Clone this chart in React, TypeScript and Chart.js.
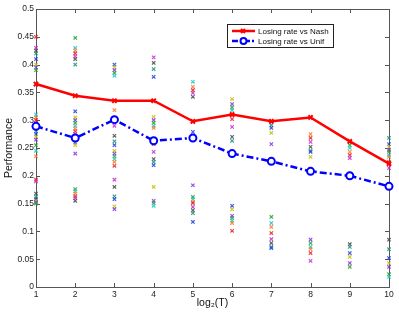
import React, { useEffect, useRef } from "react";
import { Chart, registerables } from "chart.js";

Chart.register(...registerables);

const xValues = [1, 2, 3, 4, 5, 6, 7, 8, 9, 10];
const nashLosing = [0.365, 0.344, 0.335, 0.335, 0.298, 0.31, 0.298, 0.305, 0.262, 0.222];
const unifLosing = [0.289, 0.268, 0.301, 0.263, 0.268, 0.24, 0.226, 0.208, 0.2, 0.181];

const runs1 = [0.45, 0.43, 0.425, 0.42, 0.41, 0.4, 0.395, 0.39, 0.31, 0.305, 0.3, 0.295, 0.29, 0.28, 0.275, 0.27, 0.265, 0.255, 0.245, 0.235, 0.193, 0.19, 0.168, 0.162, 0.158, 0.155, 0.152, 0.15];
const runs2 = [0.448, 0.43, 0.425, 0.42, 0.415, 0.41, 0.4, 0.316, 0.305, 0.3, 0.295, 0.29, 0.285, 0.28, 0.275, 0.27, 0.265, 0.26, 0.255, 0.24, 0.176, 0.172, 0.168, 0.163, 0.16, 0.155];
const runs3 = [0.4, 0.395, 0.39, 0.385, 0.38, 0.318, 0.3, 0.29, 0.272, 0.262, 0.255, 0.245, 0.24, 0.235, 0.23, 0.225, 0.218, 0.193, 0.18, 0.163, 0.158, 0.145, 0.14];
const runs4 = [0.413, 0.403, 0.392, 0.378, 0.306, 0.3, 0.295, 0.29, 0.286, 0.257, 0.243, 0.23, 0.225, 0.219, 0.18, 0.155, 0.151, 0.146];
const runs5 = [0.369, 0.36, 0.354, 0.349, 0.342, 0.297, 0.279, 0.264, 0.183, 0.162, 0.158, 0.153, 0.151, 0.144, 0.138, 0.133, 0.117];
const runs6 = [0.338, 0.329, 0.323, 0.318, 0.312, 0.302, 0.288, 0.27, 0.263, 0.146, 0.14, 0.128, 0.124, 0.119, 0.115, 0.101];
const runs7 = [0.299, 0.291, 0.286, 0.277, 0.257, 0.126, 0.115, 0.108, 0.097, 0.086, 0.079, 0.072, 0.07];
const runs8 = [0.275, 0.268, 0.261, 0.252, 0.245, 0.243, 0.234, 0.085, 0.079, 0.072, 0.068, 0.061, 0.047];
const runs9 = [0.261, 0.255, 0.25, 0.243, 0.237, 0.232, 0.077, 0.072, 0.061, 0.054, 0.043, 0.036];
const runs10 = [0.268, 0.257, 0.252, 0.246, 0.243, 0.237, 0.234, 0.225, 0.214, 0.085, 0.068, 0.052, 0.043, 0.036, 0.023, 0.018];
const runsByX = [runs1, runs2, runs3, runs4, runs5, runs6, runs7, runs8, runs9, runs10];

const yTicks = [0, 0.05, 0.1, 0.15, 0.2, 0.25, 0.3, 0.35, 0.4, 0.45, 0.5];

const palette = [
  "rgba(230,30,30,0.85)",
  "rgba(40,160,40,0.85)",
  "rgba(30,60,230,0.85)",
  "rgba(200,40,210,0.85)",
  "rgba(20,200,200,0.85)",
  "rgba(200,190,0,0.85)",
  "rgba(70,70,70,0.85)",
  "rgba(255,120,40,0.85)",
  "rgba(130,50,220,0.85)",
  "rgba(20,150,120,0.85)",
];

const legendLabels = ["Losing rate vs Nash", "Losing rate vs Unif"];

export default function App() {
  const ref = useRef<HTMLCanvasElement | null>(null);

  useEffect(() => {
    document.body.style.margin = "0";
    const canvas = ref.current;
    if (!canvas) return;

    const scatterPoints: { x: number; y: number }[] = [];
    const scatterColors: string[] = [];
    runsByX.forEach((arr, i) => {
      arr.forEach((v, j) => {
        scatterPoints.push({ x: xValues[i], y: v });
        scatterColors.push(palette[(j * 3 + i) % palette.length]);
      });
    });

    const frame = {
      id: "frame",
      beforeDatasetsDraw(chart: any) {
        const { ctx, chartArea } = chart;
        const { left, right, top, bottom } = chartArea;
        ctx.save();
        ctx.strokeStyle = "#555";
        ctx.lineWidth = 1;
        ctx.strokeRect(Math.round(left) + 0.5, Math.round(top) + 0.5, Math.round(right - left), Math.round(bottom - top));
        const xs = chart.scales.x;
        const ys = chart.scales.y;
        const tl = 4;
        ctx.beginPath();
        xValues.forEach((v) => {
          const px = Math.round(xs.getPixelForValue(v)) + 0.5;
          ctx.moveTo(px, bottom);
          ctx.lineTo(px, bottom - tl);
          ctx.moveTo(px, top);
          ctx.lineTo(px, top + tl);
        });
        yTicks.forEach((v) => {
          const py = Math.round(ys.getPixelForValue(v)) + 0.5;
          ctx.moveTo(left, py);
          ctx.lineTo(left + tl, py);
          ctx.moveTo(right, py);
          ctx.lineTo(right - tl, py);
        });
        ctx.stroke();
        ctx.restore();
      },
      afterDraw(chart: any) {
        const { ctx } = chart;
        const bx = 227.5, by = 24.5, bw = 106, bh = 23;
        ctx.save();
        ctx.fillStyle = "#fff";
        ctx.fillRect(bx, by, bw, bh);
        ctx.strokeStyle = "#222";
        ctx.lineWidth = 1;
        ctx.strokeRect(bx, by, bw, bh);
        ctx.font = "8px 'Liberation Sans', Arial, sans-serif";
        ctx.fillStyle = "#111";
        ctx.textBaseline = "middle";
        const y1 = 31, y2 = 41;
        ctx.strokeStyle = "#ff0000";
        ctx.lineWidth = 2.5;
        ctx.beginPath();
        ctx.moveTo(232, y1);
        ctx.lineTo(255, y1);
        ctx.stroke();
        ctx.lineWidth = 2;
        ctx.beginPath();
        ctx.moveTo(241, y1 - 2); ctx.lineTo(245, y1 + 2);
        ctx.moveTo(245, y1 - 2); ctx.lineTo(241, y1 + 2);
        ctx.stroke();
        ctx.fillText(legendLabels[0], 258, y1 + 0.5);
        ctx.strokeStyle = "#0000ff";
        ctx.lineWidth = 2.5;
        ctx.setLineDash([6, 2, 2, 2]);
        ctx.beginPath();
        ctx.moveTo(232, y2);
        ctx.lineTo(255, y2);
        ctx.stroke();
        ctx.setLineDash([]);
        ctx.lineWidth = 2;
        ctx.fillStyle = "#fff";
        ctx.beginPath();
        ctx.arc(243.5, y2, 3, 0, Math.PI * 2);
        ctx.fill();
        ctx.stroke();
        ctx.fillStyle = "#111";
        ctx.fillText(legendLabels[1], 258, y2 + 0.5);
        ctx.restore();
      },
    };

    const chart = new Chart(canvas, {
      type: "line",
      data: {
        datasets: [
          {
            label: legendLabels[0],
            data: xValues.map((x, i) => ({ x, y: nashLosing[i] })),
            borderColor: "#ff0000",
            backgroundColor: "#ff0000",
            borderWidth: 2.5,
            pointStyle: "crossRot",
            pointRadius: 3,
            pointBorderWidth: 2,
            tension: 0,
            clip: false,
          } as any,
          {
            label: legendLabels[1],
            data: xValues.map((x, i) => ({ x, y: unifLosing[i] })),
            borderColor: "#0000ff",
            backgroundColor: "#ffffff",
            borderWidth: 2.5,
            borderDash: [7, 3, 2, 3],
            pointStyle: "circle",
            pointRadius: 3.5,
            pointBorderWidth: 2,
            tension: 0,
            clip: false,
          } as any,
          {
            type: "scatter",
            label: "runs",
            data: scatterPoints,
            showLine: false,
            clip: false,
            pointStyle: "crossRot",
            pointRadius: 2.4,
            pointBorderWidth: 1.2,
            pointBorderColor: scatterColors,
            pointBackgroundColor: scatterColors,
          } as any,
        ],
      },
      options: {
        responsive: false,
        animation: false,
        devicePixelRatio: 1,
        layout: { padding: { top: 9, right: 10, left: 0, bottom: 0 } },
        plugins: { legend: { display: false }, tooltip: { enabled: false } },
        scales: {
          x: {
            type: "linear",
            min: 1,
            max: 10,
            afterBuildTicks: (s: any) => {
              s.ticks = xValues.map((v) => ({ value: v }));
            },
            ticks: {
              font: { size: 8.5, family: "'Liberation Sans', Arial, sans-serif" },
              color: "#222",
              padding: 3,
              maxRotation: 0,
            },
            grid: { display: false, drawTicks: false },
            border: { display: false },
            title: {
              display: true,
              text: "log₂(T)",
              font: { size: 10.5, family: "'Liberation Sans', Arial, sans-serif" },
              color: "#111",
              padding: { top: 0, bottom: 6.5 },
            },
            afterFit: (s: any) => {
              s.height = 29;
            },
          },
          y: {
            type: "linear",
            min: 0,
            max: 0.5,
            afterBuildTicks: (s: any) => {
              s.ticks = yTicks.map((v) => ({ value: v }));
            },
            ticks: {
              font: { size: 8.5, family: "'Liberation Sans', Arial, sans-serif" },
              color: "#222",
              padding: 2,
              callback: (v: any) => String(Number(Number(v).toFixed(2))),
            },
            grid: { display: false, drawTicks: false },
            border: { display: false },
            title: {
              display: true,
              text: "Performance",
              font: { size: 10.5, family: "'Liberation Sans', Arial, sans-serif" },
              color: "#111",
              padding: { top: 3, bottom: 0 },
            },
            afterFit: (s: any) => {
              s.width = 36;
            },
          },
        },
      } as any,
      plugins: [frame],
    });

    return () => chart.destroy();
  }, []);

  return (
    <div style={{ position: "fixed", left: 0, top: 0, width: 399, height: 316, background: "#fff" }}>
      <canvas ref={ref} width={399} height={316} />
    </div>
  );
}
